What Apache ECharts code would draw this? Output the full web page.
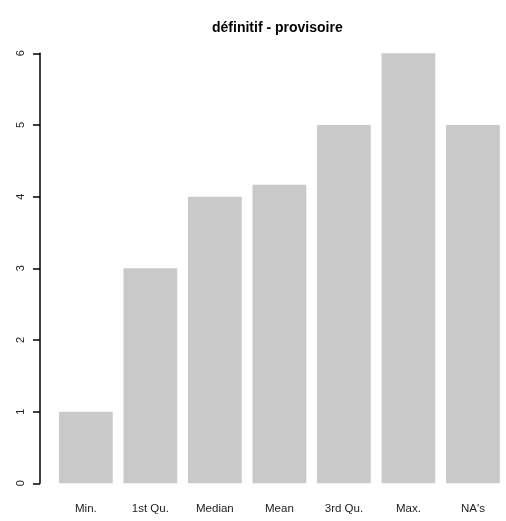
<!DOCTYPE html>
<html>
<head>
<meta charset="utf-8">
<script src="https://cdn.jsdelivr.net/npm/echarts@6/dist/echarts.min.js"></script>
<style>html,body{margin:0;padding:0;background:#fff;}#c{width:506px;height:521px;}</style>
</head>
<body>
<div id="c"></div>
<script>
const categories = ["Min.", "1st Qu.", "Median", "Mean", "3rd Qu.", "Max.", "NA's"];
const values = [1, 3, 4, 4.167, 5, 6, 5];
const yTicks = [0, 1, 2, 3, 4, 5, 6];
const titleText = "définitif - provisoire";

const chart = echarts.init(document.getElementById('c'), null, {renderer: 'canvas'});
chart.setOption({
  animation: false,
  backgroundColor: '#ffffff',
  title: {
    text: titleText,
    left: 207, top: 16,
    textStyle: {fontFamily: 'Liberation Sans, Arial, sans-serif', fontWeight: 'bold', fontSize: 14, color: '#000'}
  },
  grid: {left: 53.6, right: 0.8, top: 53.3, bottom: 37.7, containLabel: false},
  xAxis: {
    type: 'category', data: categories,
    axisLine: {show: false}, axisTick: {show: false},
    axisLabel: {margin: 20, fontFamily: 'Liberation Sans, Arial, sans-serif', fontSize: 11.5, color: '#222'}
  },
  yAxis: {
    type: 'value', min: yTicks[0], max: yTicks[yTicks.length - 1], interval: 1,
    offset: 13.6,
    splitLine: {show: false},
    axisLine: {show: true, lineStyle: {color: '#000', width: 1.5}},
    axisTick: {show: true, length: 7, lineStyle: {color: '#000', width: 1.5}},
    axisLabel: {rotate: 90, margin: 14, fontFamily: 'Liberation Sans, Arial, sans-serif', fontSize: 11, color: '#222'}
  },
  series: [{
    type: 'bar', data: values, barCategoryGap: '16.7%',
    itemStyle: {color: '#c9c9c9'}
  }]
});
</script>
</body>
</html>
